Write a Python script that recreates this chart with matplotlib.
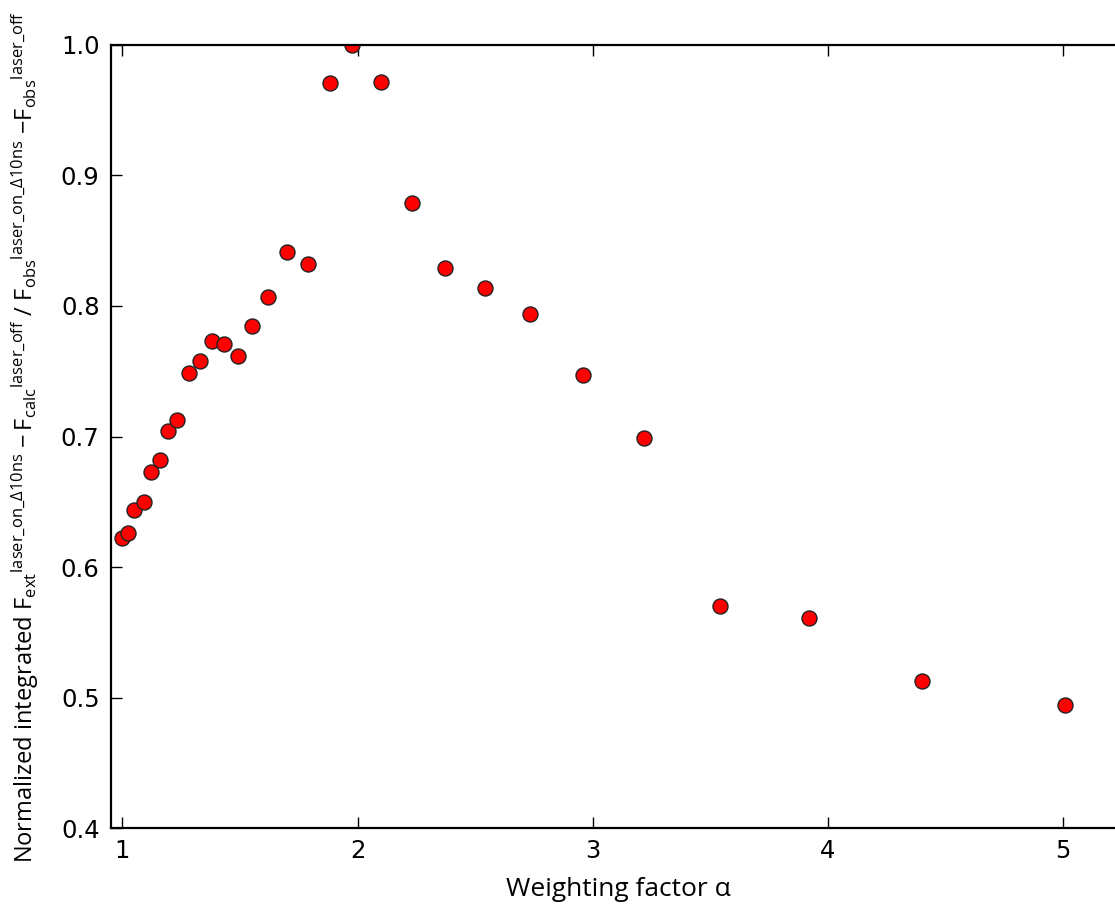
import numpy as np
import matplotlib.pyplot as plt

# weighting factor alpha and normalized integrated difference density
alpha = [1.000, 1.024, 1.050, 1.090, 1.122, 1.161, 1.192, 1.232,
         1.281, 1.330, 1.380, 1.432, 1.492, 1.551, 1.619, 1.699,
         1.789, 1.882, 1.978, 2.100, 2.230, 2.371, 2.541, 2.731,
         2.960, 3.218, 3.540, 3.919, 4.399, 5.006]
signal = [0.622, 0.626, 0.644, 0.650, 0.673, 0.682, 0.704, 0.713,
          0.749, 0.758, 0.773, 0.771, 0.762, 0.785, 0.807, 0.841,
          0.832, 0.971, 1.000, 0.972, 0.879, 0.829, 0.814, 0.794,
          0.747, 0.699, 0.570, 0.561, 0.513, 0.494]

xticks = [1, 2, 3, 4, 5]
yticks = [0.4, 0.5, 0.6, 0.7, 0.8, 0.9, 1.0]

plt.rcParams['mathtext.fontset'] = 'custom'
plt.rcParams['mathtext.rm'] = 'Open Sans'
plt.rcParams['mathtext.it'] = 'Open Sans'

fig = plt.figure(figsize=(11.15, 9.09), dpi=100)
# right edge runs past the figure border
ax = fig.add_axes([0.0993, 0.0891, 0.9107, 0.8614])

ax.plot(alpha, signal, 'o', color='#ff0000', markersize=10.8,
        markeredgecolor='#222222', markeredgewidth=1.0)

ax.set_xlim(0.95, 5.268)
ax.set_ylim(0.4, 1.0)
ax.set_xticks(xticks)
ax.set_yticks(yticks)
ax.set_xticklabels([str(t) for t in xticks])
ax.set_yticklabels(['%.1f' % t for t in yticks])
ax.tick_params(direction='in', length=8, width=1, top=True, right=False,
               labelsize=17.5, pad=8)
for s in ax.spines.values():
    s.set_linewidth(1.6)
ax.spines['right'].set_visible(False)

ax.set_xlabel('Weighting factor \u03b1', fontsize=19, family='Open Sans',
              labelpad=10)
ylab = (r'Normalized integrated $\mathrm{F_{ext}}^{\mathrm{laser\_on\_\Delta10ns}}$'
        r' $\mathrm{-\,F_{calc}}^{\mathrm{laser\_off}}$ / '
        r'$\mathrm{F_{obs}}^{\mathrm{laser\_on\_\Delta10ns}}$'
        r' $\mathrm{-F_{obs}}^{\mathrm{laser\_off}}$')
ax.set_ylabel(ylab, fontsize=17, family='Open Sans', labelpad=14)

fig.savefig('out.png', dpi=100)
